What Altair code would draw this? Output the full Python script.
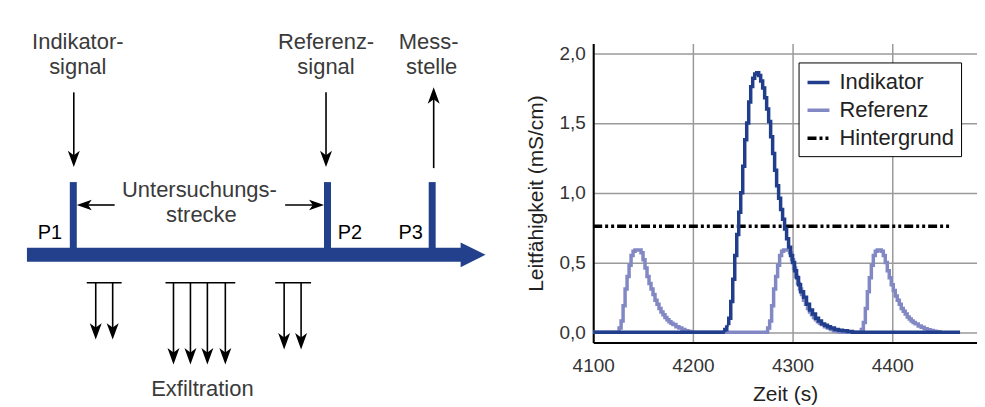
import altair as alt
import pandas as pd

# ================= right chart: conductivity curves =================
series_names = ["Indikator", "Referenz", "Hintergrund"]
series_colors = ["#213e8c", "#8188c4", "#000000"]
x_ticks = [4100, 4200, 4300, 4400]
y_ticks = [0.0, 0.5, 1.0, 1.5, 2.0]

ind_t = [4100, 4230,
         4232, 4234, 4236, 4238, 4240, 4242, 4244, 4246, 4248, 4250, 4252, 4254, 4256,
         4258, 4260, 4262, 4264, 4266, 4268, 4270, 4272, 4274, 4276, 4278, 4280, 4282,
         4284, 4286, 4288, 4290, 4292, 4294, 4296, 4298, 4300, 4302, 4304, 4306, 4308,
         4311, 4314, 4317, 4320, 4323, 4326, 4329, 4332, 4335, 4338,
         4342, 4346, 4350, 4355, 4360, 4468]
ind_v = [0.0, 0.0,
         0.02, 0.05, 0.10, 0.22, 0.38, 0.55, 0.70, 0.86, 1.00, 1.19, 1.38, 1.50, 1.65,
         1.76, 1.82, 1.85, 1.86, 1.84, 1.80, 1.75, 1.68, 1.60, 1.51, 1.40, 1.28, 1.16,
         1.05, 0.96, 0.88, 0.81, 0.74, 0.67, 0.61, 0.55, 0.50, 0.44, 0.39, 0.34, 0.29,
         0.25, 0.20, 0.16, 0.13, 0.10, 0.08, 0.06, 0.05, 0.04, 0.03,
         0.02, 0.015, 0.01, 0.005, 0.0, 0.0]

ref_t = [4100,
         4124, 4126, 4128, 4130, 4132, 4134, 4136, 4138, 4140, 4142, 4144, 4146, 4148, 4150,
         4152, 4154, 4156, 4158, 4160, 4162, 4164, 4166, 4168, 4170, 4172, 4174, 4176, 4178,
         4180, 4183, 4186, 4189, 4192, 4195, 4198,
         4273, 4275, 4277, 4279, 4281, 4283, 4285, 4287, 4289, 4291, 4293, 4295, 4297, 4299,
         4301, 4303, 4305, 4307, 4309, 4311, 4313, 4315, 4317, 4319, 4321, 4323, 4325, 4327,
         4329, 4332, 4335, 4338, 4341, 4344, 4347,
         4367, 4369, 4371, 4373, 4375, 4377, 4379, 4381, 4383, 4385, 4387, 4389, 4391, 4393,
         4395, 4397, 4399, 4401, 4403, 4405, 4407, 4409, 4411, 4413, 4415, 4417, 4419, 4421,
         4423, 4426, 4429, 4432, 4435, 4438, 4441, 4444, 4447, 4450]
ref_v = [0.0,
         0.0, 0.03, 0.08, 0.19, 0.31, 0.40, 0.48, 0.55, 0.58, 0.59, 0.59, 0.59, 0.57, 0.52,
         0.46, 0.40, 0.35, 0.31, 0.27, 0.23, 0.20, 0.17, 0.145, 0.125, 0.105, 0.09, 0.075, 0.065,
         0.055, 0.04, 0.03, 0.02, 0.01, 0.005, 0.0,
         0.0, 0.03, 0.08, 0.19, 0.31, 0.40, 0.48, 0.55, 0.58, 0.59, 0.59, 0.59, 0.57, 0.52,
         0.46, 0.40, 0.35, 0.31, 0.27, 0.23, 0.20, 0.17, 0.145, 0.125, 0.105, 0.09, 0.075, 0.065,
         0.055, 0.04, 0.03, 0.02, 0.01, 0.005, 0.0,
         0.0, 0.02, 0.07, 0.17, 0.29, 0.39, 0.48, 0.55, 0.58, 0.59, 0.59, 0.58, 0.55, 0.50,
         0.44, 0.39, 0.34, 0.30, 0.26, 0.23, 0.20, 0.17, 0.15, 0.13, 0.11, 0.095, 0.08, 0.07,
         0.06, 0.045, 0.035, 0.025, 0.018, 0.012, 0.008, 0.004, 0.0, 0.0]

bg_t = [4100, 4460]
bg_v = [0.76, 0.76]

assert len(ind_t) == len(ind_v) and len(ref_t) == len(ref_v)

rows = []
for name, ts, vs in [("Hintergrund", bg_t, bg_v), ("Referenz", ref_t, ref_v), ("Indikator", ind_t, ind_v)]:
    for t, v in zip(ts, vs):
        rows.append({"t": t, "v": v, "series": name})
curves = pd.DataFrame(rows)

right = alt.Chart(curves).mark_line(interpolate="step-after", strokeWidth=3.5).encode(
    x=alt.X("t:Q", scale=alt.Scale(domain=[4100, 4485], nice=False, zero=False),
            axis=alt.Axis(values=x_ticks, title="Zeit (s)", format="d", ticks=False, tickSize=0,
                          labelPadding=14, titlePadding=8, labelFlush=False)),
    y=alt.Y("v:Q", scale=alt.Scale(domain=[-0.074, 2.069], nice=False, zero=False),
            axis=alt.Axis(values=y_ticks, title="Leitfähigkeit (mS/cm)", ticks=False, tickSize=0,
                          labelPadding=8, titlePadding=12, labelFlush=False,
                          labelExpr="replace(format(datum.value, '.1f'), '.', ',')")),
    color=alt.Color("series:N", title=None,
                    scale=alt.Scale(domain=series_names, range=series_colors),
                    legend=alt.Legend(orient="none", legendX=793, legendY=19,
                                      symbolType="stroke", symbolSize=484, symbolStrokeWidth=3.5,
                                      labelFontSize=22, labelOffset=8, rowPadding=4,
                                      padding=7, strokeColor="#000000", fillColor="#ffffff",
                                      labelColor="#222222")),
    strokeDash=alt.StrokeDash("series:N", title=None,
                              scale=alt.Scale(domain=series_names,
                                              range=[[1, 0], [1, 0], [9, 3, 3, 3, 3, 3]])),
    detail="series:N",
).properties(width=385, height=300)

# ================= left diagram (image-pixel coordinates) =================
pipe_x1 = [27, 70, 325, 430]
pipe_x2 = [463, 77, 332, 437]
pipe_y1 = [248, 182, 182, 182]
pipe_y2 = [262, 255, 255, 255]
flow_tip_x = [487]
flow_tip_y = [255]

line_x1 = [74, 327, 435, 115, 286, 87, 96, 113, 166, 174, 191, 208, 226, 276, 285, 302]
line_y1 = [92, 92, 168, 205, 205, 283, 283, 283, 283, 283, 283, 283, 283, 283, 283, 283]
line_x2 = [74, 327, 435, 84, 318, 122, 96, 113, 236, 174, 191, 208, 226, 312, 285, 302]
line_y2 = [158, 158, 97, 205, 205, 283, 330, 330, 283, 355, 355, 355, 355, 283, 340, 340]

down_tip_x = [74, 327, 96, 113, 174, 191, 208, 226, 285, 302]
down_tip_y = [167, 167, 340, 340, 365, 365, 365, 365, 350, 350]
up_tip_x = [435]
up_tip_y = [87]
left_tip_x = [77]
left_tip_y = [205]
right_tip_x = [325]
right_tip_y = [205]

label_text = ["Indikator-", "signal", "Referenz-", "signal", "Mess-", "stelle",
              "Untersuchungs-", "strecke", "Exfiltration"]
label_x = [78, 78, 327, 327, 430, 433, 200, 202, 203]
label_y = [42, 67, 42, 67, 42, 67, 190, 215, 390]
point_text = ["P1", "P2", "P3"]
point_x = [50, 351, 412]
point_y = [233, 233, 233]

xs = alt.Scale(domain=[8, 527], nice=False, zero=False)
ys = alt.Scale(domain=[43, 343], reverse=True, nice=False, zero=False)

def XQ(f):
    return alt.X(f, type="quantitative", scale=xs, axis=None)

def YQ(f):
    return alt.Y(f, type="quantitative", scale=ys, axis=None)

pipes = alt.Chart(pd.DataFrame({"x1": pipe_x1, "x2": pipe_x2, "y1": pipe_y1, "y2": pipe_y2})).mark_rect(
    color="#23408c").encode(x=XQ("x1"), x2="x2", y=YQ("y1"), y2="y2")

flow_head = alt.Chart(pd.DataFrame({"x": flow_tip_x, "y": flow_tip_y})).mark_point(
    shape="M0,0L-2,-1L-2,1Z", size=625, filled=True, color="#23408c", opacity=1, strokeWidth=0
).encode(x=XQ("x"), y=YQ("y"))

lines = alt.Chart(pd.DataFrame({"x1": line_x1, "x2": line_x2, "y1": line_y1, "y2": line_y2})).mark_rule(
    color="#000000", strokeWidth=1.6).encode(x=XQ("x1"), x2="x2", y=YQ("y1"), y2="y2")

def heads(xv, yv, path):
    return alt.Chart(pd.DataFrame({"x": xv, "y": yv})).mark_point(
        shape=path, size=225, filled=True, color="#000000", opacity=1, strokeWidth=0
    ).encode(x=XQ("x"), y=YQ("y"))

down_heads = heads(down_tip_x, down_tip_y, "M0,0L-0.8,-2.2L0,-1.6L0.8,-2.2Z")
up_heads = heads(up_tip_x, up_tip_y, "M0,0L-0.8,2.2L0,1.6L0.8,2.2Z")
left_heads = heads(left_tip_x, left_tip_y, "M0,0L2,-0.7L1.5,0L2,0.7Z")
right_heads = heads(right_tip_x, right_tip_y, "M0,0L-2,-0.7L-1.5,0L-2,0.7Z")

labels = alt.Chart(pd.DataFrame({"x": label_x, "y": label_y, "t": label_text})).mark_text(
    fontSize=22, color="#3a3a3a", align="center", baseline="middle"
).encode(x=XQ("x"), y=YQ("y"), text="t:N")

plabels = alt.Chart(pd.DataFrame({"x": point_x, "y": point_y, "t": point_text})).mark_text(
    fontSize=20, color="#000000", align="center", baseline="middle"
).encode(x=XQ("x"), y=YQ("y"), text="t:N")

left = alt.layer(pipes, flow_head, lines, down_heads, up_heads, left_heads, right_heads,
                 labels, plabels).properties(width=519, height=300)

chart = alt.hconcat(left, right, spacing=0).properties(
    padding={"top": 23, "left": 0, "right": 0, "bottom": 0}
).configure(font="Liberation Sans").configure_view(strokeWidth=0).configure_axis(
    domainColor="#000000", domainWidth=2, gridColor="#9a9a9a", gridWidth=1.5,
    labelFontSize=19, labelColor="#333333", titleFontSize=21, titleFontWeight="normal",
    titleColor="#222222"
)

chart.save("out.html", embed_options={"renderer": "svg", "actions": False})
